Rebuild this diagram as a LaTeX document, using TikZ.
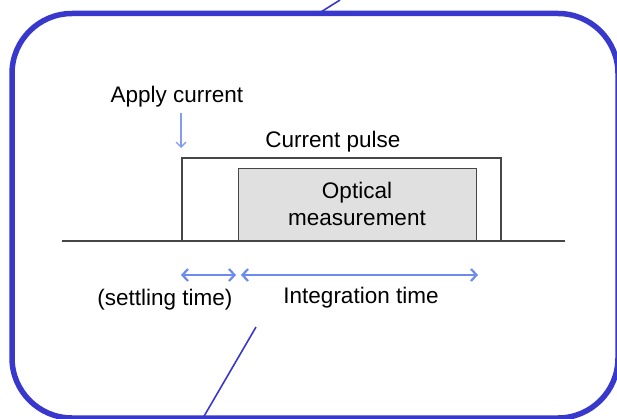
\documentclass[tikz,border=0pt]{standalone}
\usepackage{fontspec}
\setmainfont{Liberation Sans}
\usetikzlibrary{arrows.meta}
\definecolor{frameblue}{RGB}{56,56,204}
\definecolor{arrowblue}{RGB}{108,138,240}
\definecolor{lineblack}{RGB}{70,70,70}
\definecolor{boxgray}{RGB}{224,224,224}
\tikzset{
  lbl/.style={font=\fontsize{22.5}{27}\selectfont, text=black, inner sep=0pt, align=center},
  timearrow/.style={draw=arrowblue, line width=2.2pt, {Straight Barb[length=5.5pt,width=12pt]}-{Straight Barb[length=5.5pt,width=12pt]}},
  applyarrow/.style={draw=arrowblue!85, line width=1.4pt, -{Straight Barb[length=5pt,width=10pt]}},
  trace/.style={draw=lineblack, line width=1.3pt},
  leader/.style={draw=frameblue, line width=1.6pt}
}
\begin{document}
\begin{tikzpicture}[x=1pt,y=-1pt]
\useasboundingbox (0,0) rectangle (617,419);
\begin{scope}
\clip (0,0) rectangle (617,419);
% frame
\draw[draw=frameblue, line width=5.5pt, rounded corners=60pt] (12,13.5) rectangle (618,418);
% leader lines
\coordinate (topfree) at (340,0);
\coordinate (topend) at (318.5,13.5);
\coordinate (botfree) at (256,327);
\coordinate (botend) at (203,418);
\draw[leader] (topfree) -- (topend);
\draw[leader] (botfree) -- (botend);
\end{scope}

% time axis
\coordinate (axL) at (62,241);
\coordinate (axR) at (565,241);
% optical measurement window
\node[draw=lineblack, line width=1.3pt, fill=boxgray, minimum width=238pt, minimum height=72pt, inner sep=0pt, anchor=south west] (meas) at (238,241) {};
\node[lbl] (measlbl) at (357,204) {Optical\\measurement};
% current pulse
\coordinate (p1) at (182,241);
\coordinate (p2) at (182,158);
\coordinate (p3) at (501,158);
\coordinate (p4) at (501,241);
\draw[trace] (p1) -- (p2) -- (p3) -- (p4);
\draw[trace] (axL) -- (axR);

% labels
\node[lbl] (apply) at (177,97) {Apply current};
\node[lbl] (pulse) at (333,142) {Current pulse};
\node[lbl] (settle) at (165,300) {(settling time)};
\node[lbl] (integ) at (361,298) {Integration time};

% arrows
\coordinate (aTop) at (181,113);
\coordinate (aTip) at (181,148);
\draw[applyarrow] (aTop) -- (aTip);
\coordinate (s1) at (181,275);
\coordinate (s2) at (236,275);
\coordinate (i1) at (241,275);
\coordinate (i2) at (478,275);
\draw[timearrow] (s1) -- (s2);
\draw[timearrow] (i1) -- (i2);
\end{tikzpicture}
\end{document}
